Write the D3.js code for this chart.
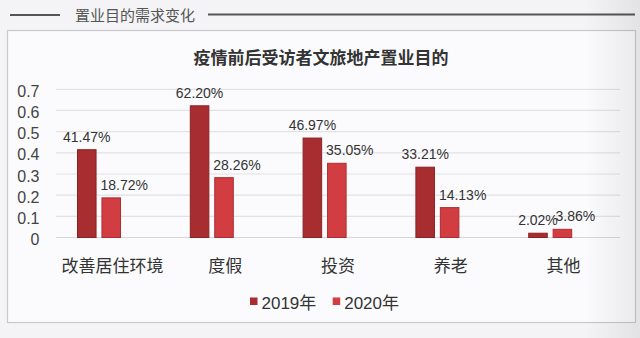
<!DOCTYPE html>
<html><head><meta charset="utf-8">
<script src="https://cdn.jsdelivr.net/npm/d3@7"></script>
<style>
html,body{margin:0;padding:0;background:#f3f3f5;}
svg{display:block;}
text{font-family:"Liberation Sans","Noto Sans CJK SC",Arial,sans-serif;}
</style></head>
<body>
<script>
const categories = ["改善居住环境","度假","投资","养老","其他"];
const seriesNames = ["2019年","2020年"];
const values2019 = [0.4147,0.6220,0.4697,0.3321,0.0202];
const values2020 = [0.1872,0.2826,0.3505,0.1413,0.0386];
const labels2019 = ["41.47%","62.20%","46.97%","33.21%","2.02%"];
const labels2020 = ["18.72%","28.26%","35.05%","14.13%","3.86%"];
const yTicks = [0,0.1,0.2,0.3,0.4,0.5,0.6,0.7];
const headerText = "置业目的需求变化";
const chartTitle = "疫情前后受访者文旅地产置业目的";
const colors = ["#a82d30","#d13d41"];
const strokes = ["#8a2224","#ad2e31"];

const W=640,H=338;
const svg=d3.select("body").append("svg").attr("width",W).attr("height",H);

const defs=svg.append("defs");
const g1=defs.append("linearGradient").attr("id","shade").attr("x1",0).attr("x2",1).attr("y1",0).attr("y2",0);
g1.append("stop").attr("offset","0").attr("stop-color","#000").attr("stop-opacity",0);
g1.append("stop").attr("offset","1").attr("stop-color","#000").attr("stop-opacity",0.07);

// background
svg.append("rect").attr("width",W).attr("height",H).attr("fill","#f4f4f6");
// box
svg.append("rect").attr("x",7.5).attr("y",30.5).attr("width",628).attr("height",292)
  .attr("fill","#fbfbfd").attr("stroke","#c9c9cc").attr("stroke-width",1.2);

// header
svg.append("line").attr("x1",10).attr("x2",60).attr("y1",15).attr("y2",15).attr("stroke","#555").attr("stroke-width",1.8);
svg.append("line").attr("x1",208).attr("x2",635).attr("y1",14.5).attr("y2",14.5).attr("stroke","#555").attr("stroke-width",1.8);
svg.append("text").attr("x",75).attr("y",20.5).attr("font-size",15).attr("fill","#555")
  .style("font-family","'Noto Sans CJK SC',sans-serif").text(headerText);

// title
svg.append("text").attr("x",321).attr("y",64).attr("text-anchor","middle").attr("font-size",17)
  .attr("font-weight","bold").attr("fill","#333").style("font-family","'Noto Sans CJK SC',sans-serif").text(chartTitle);

const x=d3.scaleBand().domain(categories).range([56,620]);
const xs=d3.scaleBand().domain(seriesNames).range([21,65]).paddingInner(0.2);
const y=d3.scaleLinear().domain([0,0.7]).range([237.5,89.3]);

// grid
svg.append("g").selectAll("line").data(yTicks).join("line")
  .attr("x1",56).attr("x2",620).attr("y1",d=>y(d)).attr("y2",d=>y(d))
  .attr("stroke",(d)=>d===0?"#d6d6d8":"#e2e2e4").attr("stroke-width",1.2);

// y axis labels
const yAxis=d3.axisLeft(y).tickValues(yTicks).tickSize(0).tickPadding(0)
  .tickFormat(d=>d===0?"0":d3.format(".1f")(d));
const ya=svg.append("g").attr("transform","translate(39.5,0)").call(yAxis);
ya.select(".domain").remove();
ya.selectAll("text").attr("font-size",16).attr("fill","#444").attr("dy","0.44em")
  .style("font-family","'Liberation Sans',Arial,sans-serif");

// x axis labels
const xAxis=d3.axisBottom(x).tickSize(0).tickPadding(0);
const xa=svg.append("g").attr("transform","translate(0,271.5)").call(xAxis);
xa.select(".domain").remove();
xa.selectAll("text").attr("font-size",17).attr("fill","#333").attr("dy",0)
  .style("font-family","'Noto Sans CJK SC',sans-serif");

const series=[values2019,values2020];
const labels=[labels2019,labels2020];
const labelDx=[0,13];
series.forEach((vals,si)=>{
  const data=categories.map((c,i)=>({c,v:vals[i],l:labels[si][i]}));
  svg.append("g").selectAll("rect").data(data).join("rect")
    .attr("x",d=>x(d.c)+xs(seriesNames[si])+0.5)
    .attr("y",d=>y(d.v))
    .attr("width",xs.bandwidth()-1)
    .attr("height",d=>y(0)-y(d.v))
    .attr("fill",colors[si]).attr("stroke",strokes[si]).attr("stroke-width",1);
  svg.append("g").selectAll("text").data(data).join("text")
    .attr("x",d=>x(d.c)+xs(seriesNames[si])+xs.bandwidth()/2+labelDx[si])
    .attr("y",d=>y(d.v)-8)
    .attr("text-anchor","middle").attr("font-size",14).attr("fill","#333")
    .text(d=>d.l);
});

// legend
const legX=[250,332.7];
seriesNames.forEach((s,i)=>{
  svg.append("rect").attr("x",legX[i]).attr("y",297.5).attr("width",7.5).attr("height",7.5).attr("fill",colors[i]);
  svg.append("text").attr("x",legX[i]+11.5).attr("y",308.5).attr("font-size",17).attr("fill","#333").text(s);
});

// right shading (photo edge)
svg.append("rect").attr("x",585).attr("y",0).attr("width",55).attr("height",H).attr("fill","url(#shade)");
</script>
</body></html>
